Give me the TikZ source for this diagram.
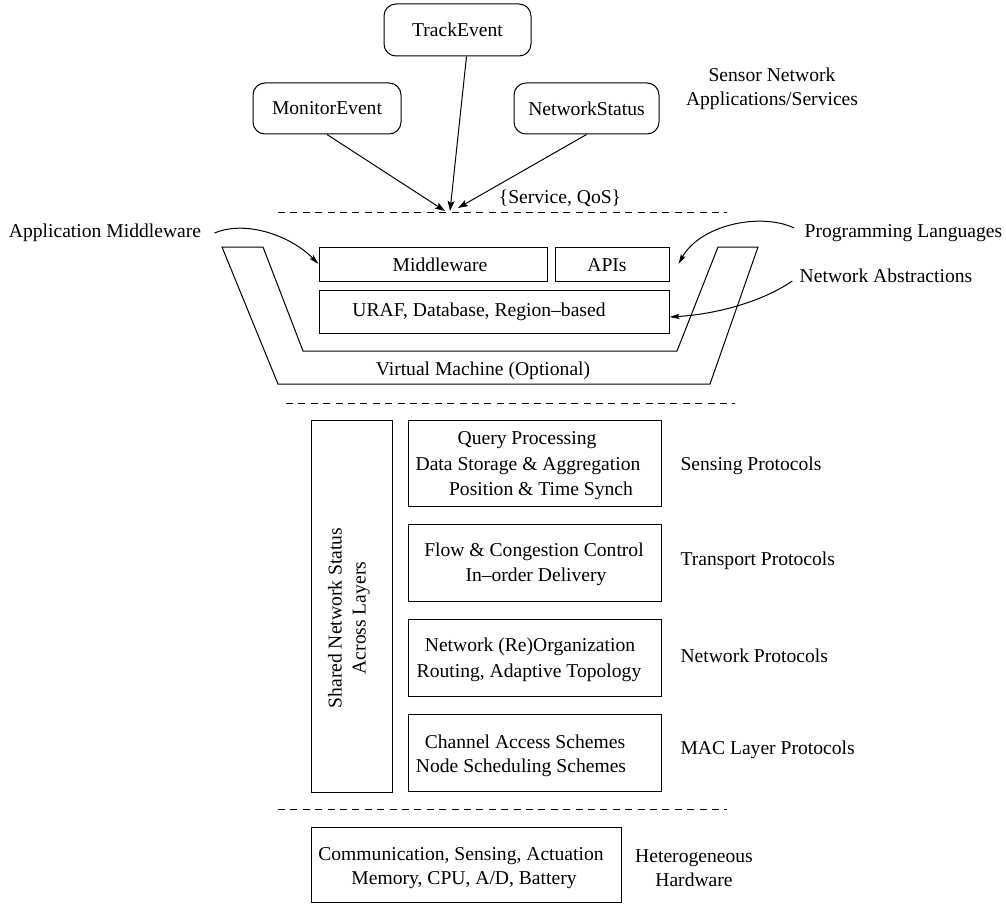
\documentclass[tikz,border=0pt]{standalone}
\usepackage{fontspec}
\setmainfont{LiberationSerif}[Extension=.ttf, UprightFont=*-Regular, BoldFont=*-Bold, ItalicFont=*-Italic]
\usetikzlibrary{arrows.meta}
\begin{document}
\begin{tikzpicture}[x=0.5pt,y=-0.5pt,
  every node/.style={font=\fontsize{9.8}{12}\selectfont, inner sep=0pt},
  line width=0.5pt,
  appbox/.style={draw, rounded corners=6pt, minimum height=26pt},
  plainbox/.style={draw},
  layerbox/.style={draw, minimum width=126.5pt, minimum height=38.5pt},
  sepline/.style={dash pattern=on 3.5pt off 2.7pt},
  tip/.style={-{Stealth[length=5pt,width=3.4pt,inset=1pt]}},
  ctip/.style={-{Stealth[length=5pt,width=2.6pt,inset=1pt]}},
  sidelabel/.style={anchor=west}]
\useasboundingbox (0,0) rectangle (1006,904);

% applications / services
\node[appbox, minimum width=73.5pt] (track) at (457.5,30) {TrackEvent};
\node[appbox, minimum width=74pt, minimum height=25.5pt] (mon) at (327,108.5) {MonitorEvent};
\node[appbox, minimum width=72.5pt, minimum height=25.5pt] (net) at (586.5,108.5) {NetworkStatus};
\node[align=center] (apps) at (772,89) {Sensor Network\\Applications/Services};

\coordinate (tm) at (445,211);
\coordinate (tt) at (450,211);
\coordinate (tn) at (458,208);
\draw[tip] (mon.south) -- (tm);
\draw[tip] ([xshift=4.5pt]track.south) -- (tt);
\draw[tip] (net.south) -- (tn);
\node (qos) at (560,198) {\{Service, QoS\}};

% separators
\coordinate (s1a) at (278,212); \coordinate (s1b) at (727,212);
\coordinate (s2a) at (286,403); \coordinate (s2b) at (735,403);
\coordinate (s3a) at (278,809); \coordinate (s3b) at (727,809);
\draw[sepline] (s1a) -- (s1b);
\draw[sepline] (s2a) -- (s2b);
\draw[sepline] (s3a) -- (s3b);

% virtual machine trough
\draw (222,247) -- (278,384) -- (710,384) -- (758,247) -- (718,247)
      -- (677,351) -- (303,351) -- (263,247) -- cycle;
\node (vm) at (483,371) {Virtual Machine (Optional)};

% middleware layer
\node[plainbox, minimum width=114pt, minimum height=17pt] (mw) at (433,264) {};
\node (mwtext) at (440,265) {Middleware};
\node[plainbox, minimum width=57pt, minimum height=17pt] (apis) at (612,264) {};
\node (apistext) at (607,265) {APIs};
\node[plainbox, minimum width=175pt, minimum height=21.5pt] (uraf) at (494,311.5) {};
\node (uraftext) at (479,312) {URAF, Database, Region\textendash based};

\node (appmw) at (105,233) {Application Middleware};
\node (prog) at (903.5,233) {Programming Languages};
\node (netabs) at (886,276) {Network Abstractions};

\draw[ctip] ([xshift=6.5pt]appmw.east) .. controls (245,220) and (290,235) .. (mw.west);
\draw[ctip] ([shift={(-5pt,2.5pt)}]prog.west) .. controls (760,212) and (700,225) .. ([xshift=4.5pt]apis.east);
\draw[ctip] ([shift={(-3.5pt,-2.5pt)}]netabs.west) .. controls (765,300) and (720,314) .. ([yshift=-2.75pt]uraf.east);

% protocol stack
\node[draw, minimum width=40.5pt, minimum height=186pt] (shared) at (351.5,606) {};
\node[rotate=90, align=center] (sharedtext) at (349,618) {Shared Network Status\\Across Layers};

\node[layerbox, minimum height=43pt] (sense) at (534.5,463) {};
\node (sense1) at (527,440) {Query Processing};
\node (sense2) at (528,466) {Data Storage \& Aggregation};
\node (sense3) at (541,491) {Position \& Time Synch};

\node[layerbox] (trans) at (534.5,562.5) {};
\node (trans1) at (534,552) {Flow \& Congestion Control};
\node (trans2) at (536,577) {In\textendash order Delivery};

\node[layerbox] (netw) at (534.5,657.5) {};
\node (netw1) at (530,647) {Network (Re)Organization};
\node (netw2) at (529,673) {Routing, Adaptive Topology};

\node[layerbox] (mac) at (534.5,752.5) {};
\node (mac1) at (525,742) {Channel Access Schemes};
\node (mac2) at (521,768) {Node Scheduling Schemes};

\node[sidelabel] (lsense) at (680,466) {Sensing Protocols};
\node[sidelabel] (ltrans) at (680,561) {Transport Protocols};
\node[sidelabel] (lnetw) at (680,656) {Network Protocols};
\node[sidelabel] (lmac) at (680,750) {MAC Layer Protocols};

% hardware
\node[plainbox, minimum width=155pt, minimum height=37.5pt] (hw) at (466,864.5) {};
\node (hw1) at (461,856) {Communication, Sensing, Actuation};
\node (hw2) at (464,880) {Memory, CPU, A/D, Battery};
\node[align=center] (lhw) at (694,868) {Heterogeneous\\Hardware};
\end{tikzpicture}
\end{document}
